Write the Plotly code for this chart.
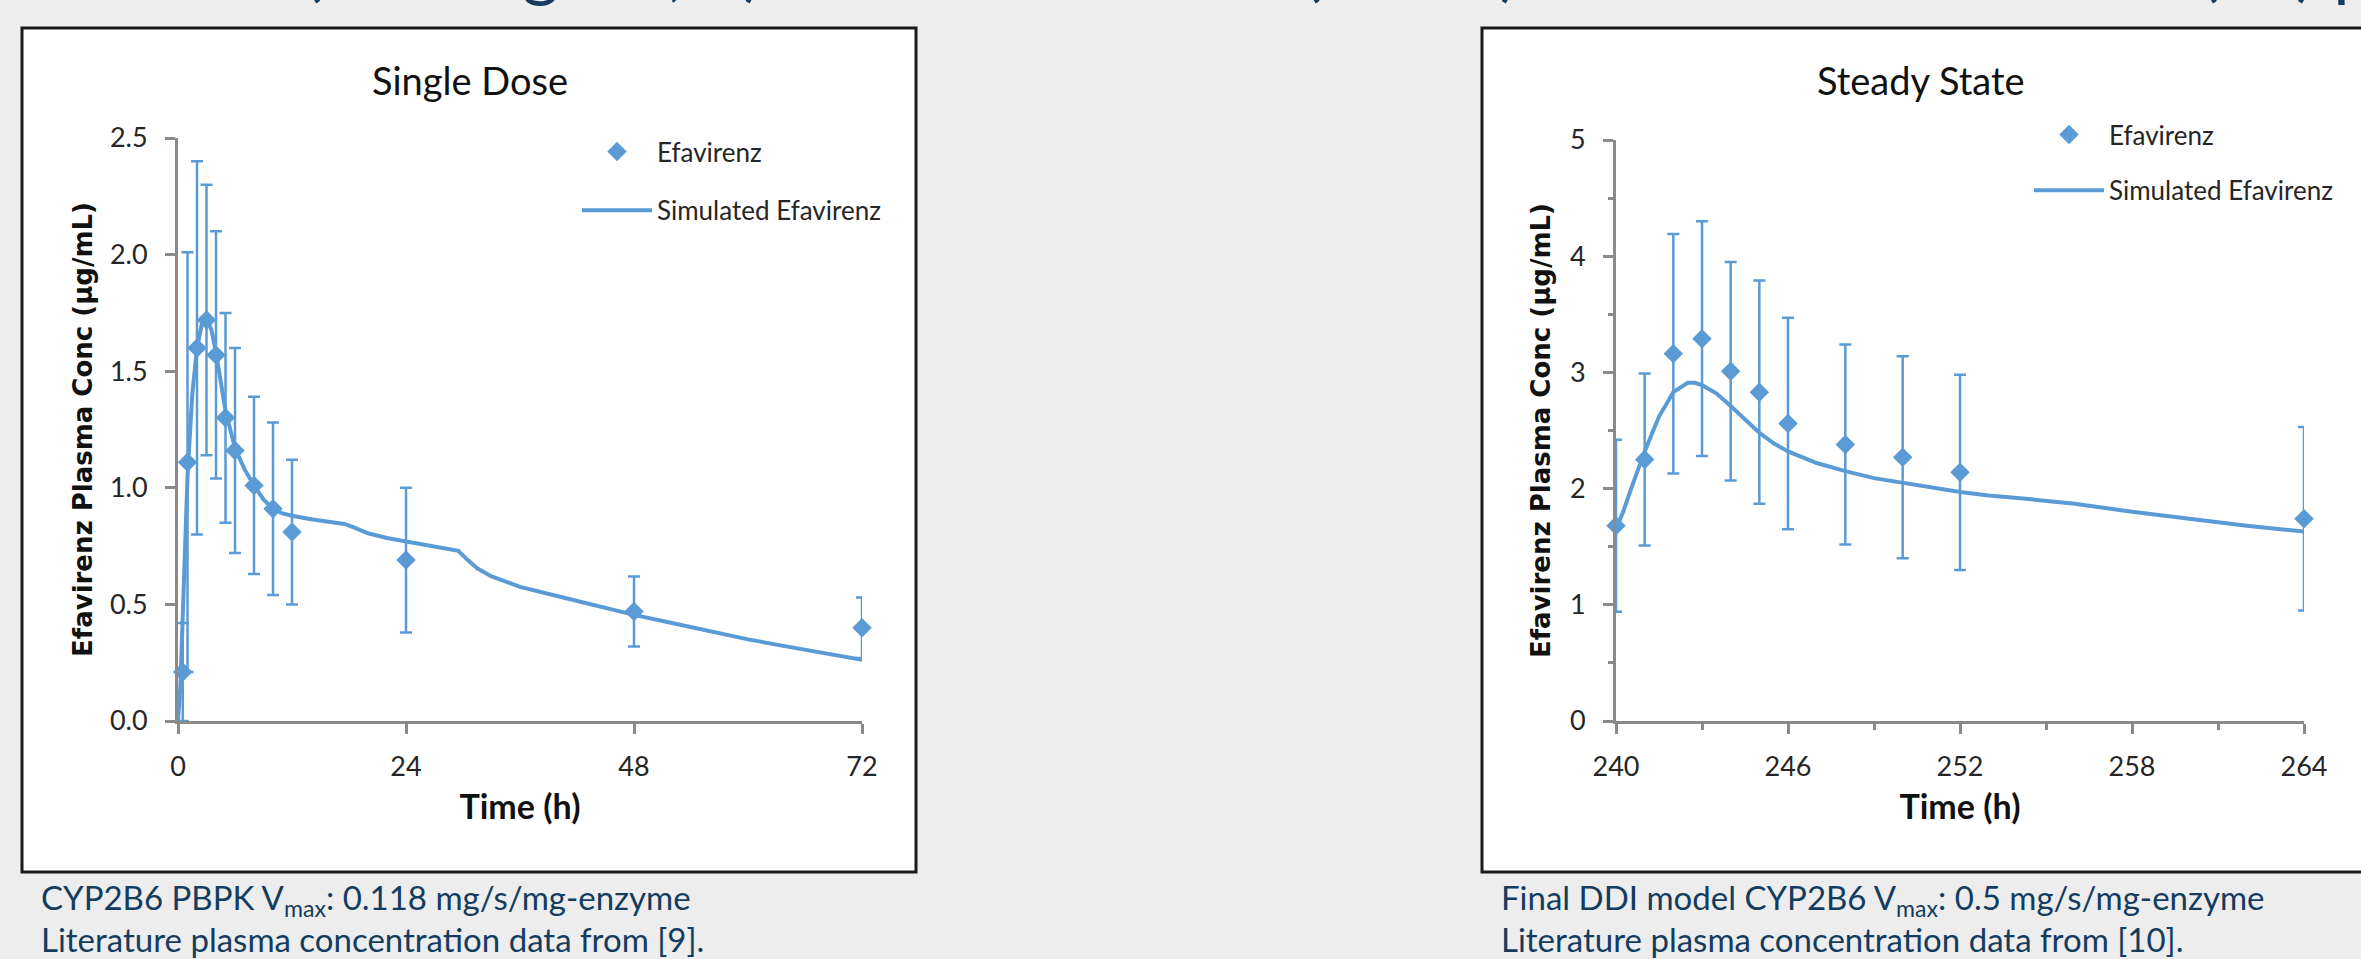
import plotly.graph_objects as go

W, H = 2361, 959

# ---- Single dose: observed efavirenz (mean, SD) ----
sd_time = [0.5, 1, 2, 3, 4, 5, 6, 8, 10, 12, 24, 48, 72]
sd_conc = [0.21, 1.11, 1.60, 1.72, 1.57, 1.30, 1.16, 1.01, 0.91, 0.81, 0.69, 0.47, 0.40]
sd_err = [0.21, 0.90, 0.80, 0.58, 0.53, 0.45, 0.44, 0.38, 0.37, 0.31, 0.31, 0.15, 0.13]

# ---- Single dose: simulated profile ----
sim_sd_time = [0, 0.25, 0.5, 0.75, 1, 1.5, 2, 2.5, 3, 3.5, 4, 5, 6, 7, 8, 9, 10, 11, 12,
               14, 16, 17.5, 18.5, 20, 22, 24, 26, 28, 29.5, 30.5, 31.5, 33, 36, 40,
               44, 48, 52, 56, 60, 64, 68, 72]
sim_sd_conc = [0, 0.15, 0.45, 0.80, 1.05, 1.40, 1.60, 1.70, 1.72, 1.68, 1.58, 1.33, 1.17,
               1.08, 1.01, 0.95, 0.91, 0.89, 0.88, 0.865, 0.855, 0.845, 0.83, 0.805,
               0.785, 0.77, 0.755, 0.74, 0.73, 0.69, 0.655, 0.62, 0.575, 0.535, 0.495,
               0.455, 0.42, 0.385, 0.35, 0.32, 0.29, 0.262]

# ---- Steady state: observed efavirenz (mean, SD) ----
ss_time = [240, 241, 242, 243, 244, 245, 246, 248, 250, 252, 264]
ss_conc = [1.68, 2.25, 3.16, 3.29, 3.01, 2.83, 2.56, 2.38, 2.27, 2.14, 1.74]
ss_err = [0.74, 0.74, 1.03, 1.01, 0.94, 0.96, 0.91, 0.86, 0.87, 0.84, 0.79]

# ---- Steady state: simulated profile ----
sim_ss_time = [240, 240.25, 240.5, 240.75, 241, 241.5, 242, 242.5, 242.75, 243, 243.5,
               244, 244.5, 245, 245.5, 246, 247, 248, 249, 250, 251, 252, 253, 254,
               256, 258, 260, 262, 264]
sim_ss_conc = [1.65, 1.80, 1.98, 2.15, 2.32, 2.62, 2.83, 2.91, 2.91, 2.89, 2.82, 2.71,
               2.59, 2.48, 2.39, 2.32, 2.22, 2.15, 2.09, 2.05, 2.01, 1.97, 1.94, 1.92,
               1.87, 1.80, 1.74, 1.68, 1.63]

sd_ticks = [0, 24, 48, 72]
ss_ticks = [240, 246, 252, 258, 264]

BLUE = "#5b9bd5"
AXIS = "#8a8a8a"
TXT = "#262626"
NAVY = "#133c5f"
FONT = "Lato"


def fx(x):
    return x / W


def fy(y):
    return 1 - y / H


fig = go.Figure()

obs_style = dict(mode="markers", marker=dict(symbol="diamond", size=15, color=BLUE),
                 cliponaxis=False, name="Efavirenz")
sim_style = dict(mode="lines", line=dict(color=BLUE, width=4), name="Simulated Efavirenz")

fig.add_trace(go.Scatter(x=sd_time, y=sd_conc,
                         error_y=dict(type="data", array=sd_err, color=BLUE, thickness=2.5, width=6),
                         xaxis="x", yaxis="y", legend="legend", legendgroup="a", **obs_style))
fig.add_trace(go.Scatter(x=sim_sd_time, y=sim_sd_conc, xaxis="x", yaxis="y",
                         legend="legend", legendgroup="b", **sim_style))
fig.add_trace(go.Scatter(x=ss_time, y=ss_conc,
                         error_y=dict(type="data", array=ss_err, color=BLUE, thickness=2.5, width=6),
                         xaxis="x2", yaxis="y2", legend="legend2", legendgroup="c", **obs_style))
fig.add_trace(go.Scatter(x=sim_ss_time, y=sim_ss_conc, xaxis="x2", yaxis="y2",
                         legend="legend2", legendgroup="d", **sim_style))

axis_common = dict(showgrid=False, zeroline=False, showline=True, linecolor=AXIS, linewidth=3,
                   ticks="outside", ticklen=10, tickwidth=3, tickcolor=AXIS,
                   tickfont=dict(family=FONT, size=27, color=TXT))
xtitle_font = dict(family=FONT, size=34, color="#111111", weight="bold")
ytitle_font = dict(family="DejaVu Sans", size=26, color="#111111", weight="bold")
legend_font = dict(family=FONT, size=26, color=TXT)

fig.update_layout(
    width=W, height=H,
    margin=dict(l=0, r=0, t=0, b=0, autoexpand=False),
    paper_bgcolor="#ededed",
    plot_bgcolor="rgba(0,0,0,0)",
    xaxis=dict(domain=[fx(178), fx(862)], range=[0, 72], tickvals=sd_ticks,
               ticklabelstandoff=10, anchor="y",
               title=dict(text="Time (h)", font=xtitle_font, standoff=14), **axis_common),
    yaxis=dict(domain=[fy(721), fy(138)], range=[0, 2.5], dtick=0.5, tickformat=".1f",
               ticklabelstandoff=12, anchor="x",
               title=dict(text="Efavirenz Plasma Conc (µg/mL)", font=ytitle_font, standoff=10),
               **axis_common),
    xaxis2=dict(domain=[fx(1616), fx(2304)], range=[240, 264], tickvals=ss_ticks,
                ticklabelstandoff=10, anchor="y2",
                minor=dict(dtick=3, ticks="outside", ticklen=6, tickwidth=3, tickcolor=AXIS,
                           showgrid=False),
                title=dict(text="Time (h)", font=xtitle_font, standoff=14), **axis_common),
    yaxis2=dict(domain=[fy(721), fy(140)], range=[0, 5], dtick=1,
                ticklabelstandoff=12, anchor="x2",
                minor=dict(dtick=0.5, ticks="outside", ticklen=5, tickwidth=3, tickcolor=AXIS,
                           showgrid=False),
                title=dict(text="Efavirenz Plasma Conc (µg/mL)", font=ytitle_font, standoff=12),
                **axis_common),
    legend=dict(x=fx(577), y=fy(128), xanchor="left", yanchor="top",
                bgcolor="rgba(0,0,0,0)", itemwidth=70, tracegroupgap=22,
                font=legend_font),
    legend2=dict(x=fx(2029), y=fy(111), xanchor="left", yanchor="top",
                 bgcolor="rgba(0,0,0,0)", itemwidth=70, tracegroupgap=19,
                 font=legend_font),
    showlegend=True,
)

# Chart panels (white boxes with dark frame)
for x0, x1 in [(22, 916), (1482, 2420)]:
    fig.add_shape(type="rect", xref="paper", yref="paper",
                  x0=fx(x0), x1=fx(x1), y0=fy(872), y1=fy(28),
                  fillcolor="white", line=dict(color="#1a1a1a", width=3), layer="below")

# Chart titles
title_font = dict(family=FONT, size=38, color="#111111")
for cx, label in [(470, "Single Dose"), (1921, "Steady State")]:
    fig.add_annotation(x=fx(cx), y=fy(80), xref="paper", yref="paper", text=label,
                       xanchor="center", yanchor="middle", showarrow=False, font=title_font)

# Captions under each panel
cap_font = dict(family=FONT, size=33, color=NAVY)
captions = [
    (40, 899, "CYP2B6 PBPK V<sub>max</sub>: 0.118 mg/s/mg-enzyme"),
    (40, 939, "Literature plasma concentration data from [9]."),
    (1500, 899, "Final DDI model CYP2B6 V<sub>max</sub>: 0.5 mg/s/mg-enzyme"),
    (1500, 939, "Literature plasma concentration data from [10]."),
]
for cx, cy, txt in captions:
    fig.add_annotation(x=fx(cx), y=fy(cy), xref="paper", yref="paper", text=txt,
                       xanchor="left", yanchor="middle", borderpad=0,
                       showarrow=False, font=cap_font)

# Slide heading running off the top edge
fig.add_annotation(x=fx(-3), y=fy(10), xref="paper", yref="paper", xanchor="left",
                   yanchor="bottom",
                   text="Efavirenz (600 mg SD, 1) PBPK Validation (PBPK) and Final DDI Model (SS) plasma",
                   showarrow=False, font=dict(family=FONT, size=71, color=NAVY))

fig.write_html("out.html")
